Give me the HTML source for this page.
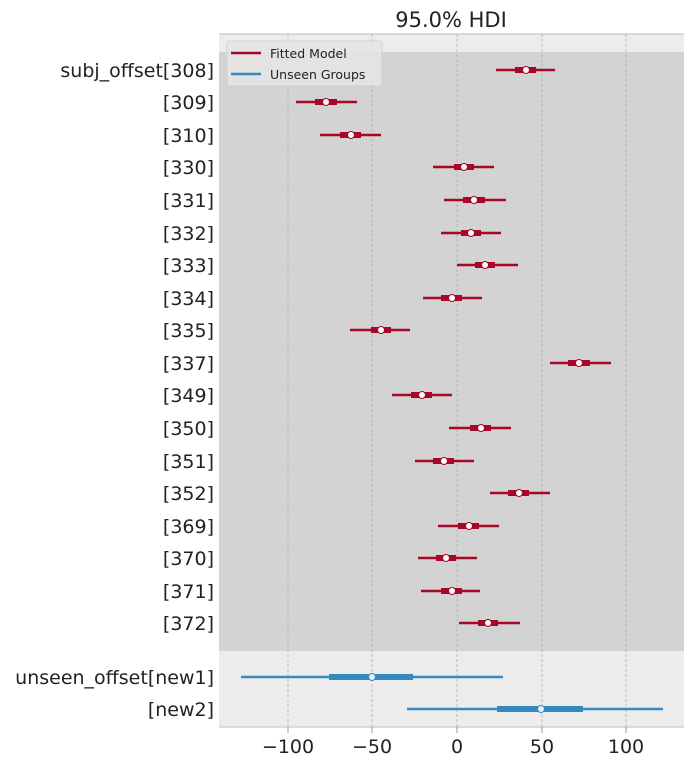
<!DOCTYPE html>
<html><head><meta charset="utf-8"><style>body{margin:0;background:#fff}svg{display:block}</style></head><body>
<svg width="693" height="761" xmlns="http://www.w3.org/2000/svg" font-family="DejaVu Sans, Liberation Sans, sans-serif">
<rect x="219" y="34" width="465" height="693" fill="#ececec"/>
<rect x="219" y="52" width="465" height="599" fill="#d3d3d3"/>
<g stroke="#b0b0b0" stroke-dasharray="3,2" stroke-width="0.8">
<line x1="288" y1="34" x2="288" y2="727"/><line x1="372" y1="34" x2="372" y2="727"/><line x1="457" y1="34" x2="457" y2="727"/><line x1="542" y1="34" x2="542" y2="727"/><line x1="626" y1="34" x2="626" y2="727"/>
</g>
<line x1="219" y1="34" x2="684" y2="34" stroke="#bbb"/>
<line x1="219" y1="727" x2="684" y2="727" stroke="#bbb"/>
<g stroke="#999"><line x1="288" y1="727" x2="288" y2="733"/><line x1="372" y1="727" x2="372" y2="733"/><line x1="457" y1="727" x2="457" y2="733"/><line x1="542" y1="727" x2="542" y2="733"/><line x1="626" y1="727" x2="626" y2="733"/></g>
<text x="451" y="27" font-size="21" text-anchor="middle" fill="#222">95.0% HDI</text>
<g font-size="19" fill="#222" text-anchor="middle">
<text x="288" y="753">−100</text><text x="372" y="753">−50</text><text x="457" y="753">0</text><text x="542" y="753">50</text><text x="626" y="753">100</text>
</g>
<g font-size="19" fill="#222" text-anchor="end">
<text x="214" y="77">subj_offset[308]</text><text x="214" y="109">[309]</text><text x="214" y="142">[310]</text><text x="214" y="174">[330]</text><text x="214" y="207">[331]</text><text x="214" y="240">[332]</text><text x="214" y="272">[333]</text><text x="214" y="305">[334]</text><text x="214" y="337">[335]</text><text x="214" y="370">[337]</text><text x="214" y="402">[349]</text><text x="214" y="435">[350]</text><text x="214" y="468">[351]</text><text x="214" y="500">[352]</text><text x="214" y="533">[369]</text><text x="214" y="565">[370]</text><text x="214" y="598">[371]</text><text x="214" y="630">[372]</text><text x="214" y="684">unseen_offset[new1]</text><text x="214" y="716">[new2]</text>
</g>
<g stroke="#a60628">
<g stroke-width="2.5">
<line x1="496" x2="555" y1="70" y2="70"/><line x1="296" x2="357" y1="102" y2="102"/><line x1="320" x2="381" y1="135" y2="135"/><line x1="433" x2="494" y1="167" y2="167"/><line x1="444" x2="506" y1="200" y2="200"/><line x1="441" x2="501" y1="233" y2="233"/><line x1="457" x2="518" y1="265" y2="265"/><line x1="423" x2="482" y1="298" y2="298"/><line x1="350" x2="410" y1="330" y2="330"/><line x1="550" x2="611" y1="363" y2="363"/><line x1="392" x2="452" y1="395" y2="395"/><line x1="449" x2="511" y1="428" y2="428"/><line x1="415" x2="474" y1="461" y2="461"/><line x1="490" x2="550" y1="493" y2="493"/><line x1="438" x2="499" y1="526" y2="526"/><line x1="418" x2="477" y1="558" y2="558"/><line x1="421" x2="480" y1="591" y2="591"/><line x1="459" x2="520" y1="623" y2="623"/>
</g>
<g stroke-width="6">
<line x1="515" x2="536" y1="70" y2="70"/><line x1="315" x2="337" y1="102" y2="102"/><line x1="340" x2="361" y1="135" y2="135"/><line x1="454" x2="474" y1="167" y2="167"/><line x1="463" x2="485" y1="200" y2="200"/><line x1="461" x2="481" y1="233" y2="233"/><line x1="475" x2="495" y1="265" y2="265"/><line x1="441" x2="462" y1="298" y2="298"/><line x1="371" x2="391" y1="330" y2="330"/><line x1="568" x2="590" y1="363" y2="363"/><line x1="411" x2="432" y1="395" y2="395"/><line x1="470" x2="491" y1="428" y2="428"/><line x1="433" x2="454" y1="461" y2="461"/><line x1="508" x2="529" y1="493" y2="493"/><line x1="458" x2="479" y1="526" y2="526"/><line x1="436" x2="456" y1="558" y2="558"/><line x1="441" x2="462" y1="591" y2="591"/><line x1="478" x2="498" y1="623" y2="623"/>
</g>
<g fill="#fff" stroke-width="1">
<circle cx="526" cy="70" r="3.5"/><circle cx="326" cy="102" r="3.5"/><circle cx="351" cy="135" r="3.5"/><circle cx="464" cy="167" r="3.5"/><circle cx="474" cy="200" r="3.5"/><circle cx="471" cy="233" r="3.5"/><circle cx="485" cy="265" r="3.5"/><circle cx="452" cy="298" r="3.5"/><circle cx="381" cy="330" r="3.5"/><circle cx="579" cy="363" r="3.5"/><circle cx="422" cy="395" r="3.5"/><circle cx="481" cy="428" r="3.5"/><circle cx="444" cy="461" r="3.5"/><circle cx="519" cy="493" r="3.5"/><circle cx="469" cy="526" r="3.5"/><circle cx="446" cy="558" r="3.5"/><circle cx="452" cy="591" r="3.5"/><circle cx="488" cy="623" r="3.5"/>
</g>
</g>
<g stroke="#348abd">
<line x1="241" x2="503" y1="677" y2="677" stroke-width="2.5"/><line x1="329" x2="413" y1="677" y2="677" stroke-width="6"/>
<line x1="407" x2="663" y1="709" y2="709" stroke-width="2.5"/><line x1="497" x2="583" y1="709" y2="709" stroke-width="6"/>
<circle cx="372" cy="677" r="3.5" fill="#e8f0f8" stroke-width="1"/><circle cx="541" cy="709" r="3.5" fill="#e8f0f8" stroke-width="1"/>
</g>
<rect x="227" y="41" width="155" height="45" rx="3" fill="#e5e5e5" fill-opacity="0.85" stroke="#ccc" stroke-width="0.8"/>
<line x1="231" y1="53" x2="261" y2="53" stroke="#a60628" stroke-width="2.5"/>
<line x1="231" y1="74" x2="261" y2="74" stroke="#348abd" stroke-width="2.5"/>
<g font-size="12.5" fill="#222"><text x="270" y="58">Fitted Model</text><text x="270" y="79">Unseen Groups</text></g>
</svg>
</body></html>
